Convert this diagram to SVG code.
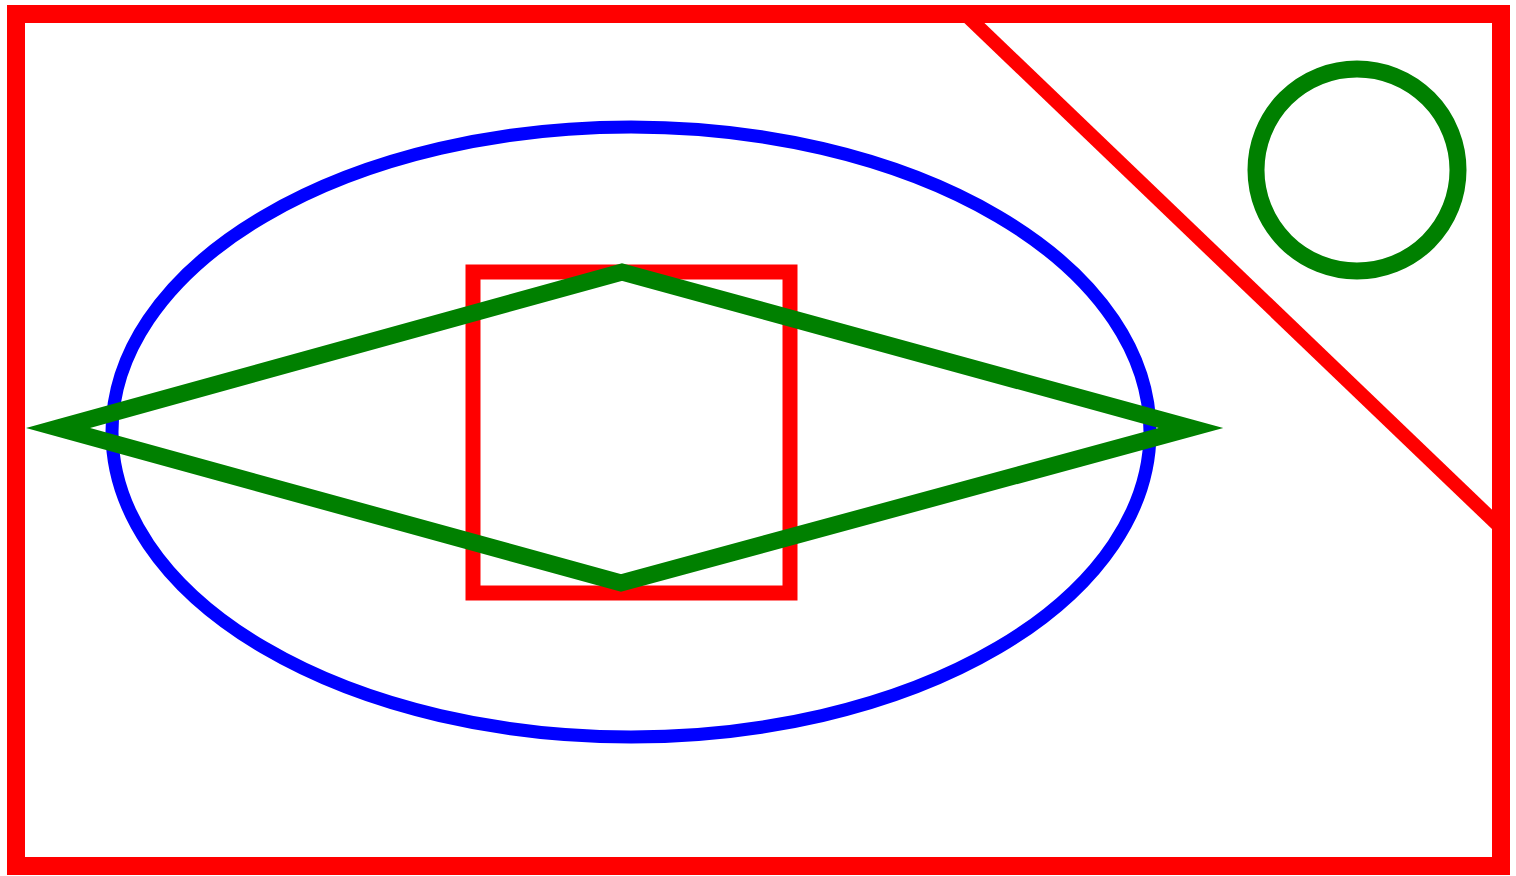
<svg xmlns="http://www.w3.org/2000/svg" width="1516" height="876" viewBox="0 0 1516 876">
<style>
.red{fill:none;stroke:#ff0000;}
.blue{fill:none;stroke:#0000ff;stroke-width:13;}
.green{fill:none;stroke:#008000;}
</style>
<rect x="0" y="0" width="1516" height="876" fill="#ffffff"/>
<g id="frame"><rect class="red" x="16" y="14" width="1485" height="852" stroke-width="18"/></g>
<g id="diagonal"><line class="red" x1="965" y1="14" x2="1501" y2="528" stroke-width="14"/></g>
<g id="ellipse"><ellipse class="blue" cx="631" cy="432" rx="519" ry="305"/></g>
<g id="box"><rect class="red" x="473" y="272" width="317" height="321" stroke-width="15"/></g>
<g id="diamond"><polygon class="green" points="58,428 622,272 1191,428 621,583" stroke-width="17" stroke-linejoin="miter" stroke-miterlimit="10"/></g>
<g id="circle"><circle class="green" cx="1357" cy="170" r="101" stroke-width="17"/></g>
<g id="connectors"></g>
</svg>
